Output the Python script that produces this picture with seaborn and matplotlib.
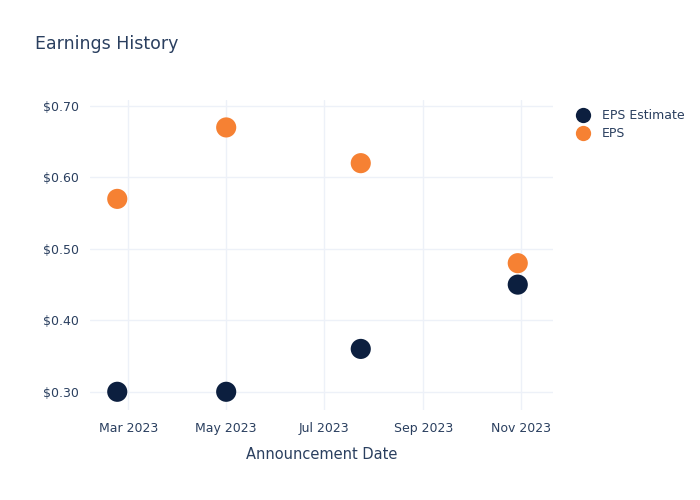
import matplotlib
matplotlib.use("Agg")
import matplotlib.pyplot as plt
import matplotlib.dates as mdates
from matplotlib.lines import Line2D
import seaborn as sns
import pandas as pd

dates = ["2023-02-22", "2023-05-01", "2023-07-24", "2023-10-30"]
eps_estimate = [0.30, 0.30, 0.36, 0.45]
eps_actual = [0.57, 0.67, 0.62, 0.48]
series_names = ["EPS Estimate", "EPS"]
colors = ["#0c1f3f", "#f68133"]

df = pd.DataFrame({
    "date": pd.to_datetime(dates * 2),
    "value": eps_estimate + eps_actual,
    "series": [series_names[0]] * len(dates) + [series_names[1]] * len(dates),
})

sns.set_style("white")
plt.rcParams['font.family'] = ['DejaVu Sans']
text_color = "#2a3f5f"
grid_color = "#edf1f8"

fig = plt.figure(figsize=(7, 5), dpi=100)
ax = fig.add_axes([0.1286, 0.18, 0.6614, 0.62])

sns.scatterplot(data=df, x="date", y="value", hue="series",
                palette=dict(zip(series_names, colors)), s=210,
                linewidth=0, ax=ax, zorder=3, legend=False)

ax.set_xlim(pd.Timestamp("2023-02-05"), pd.Timestamp("2023-11-21"))
ax.set_ylim(0.2745, 0.7084)
ax.set_yticks([0.3, 0.4, 0.5, 0.6, 0.7])
ax.set_yticklabels([f"${v:.2f}" for v in [0.3, 0.4, 0.5, 0.6, 0.7]])
ax.xaxis.set_major_locator(mdates.MonthLocator(bymonth=[3, 5, 7, 9, 11]))
ax.xaxis.set_major_formatter(mdates.DateFormatter("%b %Y"))

for s in ax.spines.values():
    s.set_visible(False)
ax.grid(True, color=grid_color, linewidth=1)
ax.set_axisbelow(True)
ax.tick_params(axis="y", length=0, labelsize=9, colors=text_color, pad=8)
ax.tick_params(axis="x", length=0, labelsize=9, colors=text_color, pad=8.5)
ax.set_xlabel("Announcement Date", fontsize=10.5, color=text_color, labelpad=9)
ax.set_ylabel("")

fig.text(0.05, 0.912, "Earnings History", fontsize=12.5, color=text_color, va="center")

handles = [Line2D([0], [0], marker="o", linestyle="", markersize=11,
                  markerfacecolor=c, markeredgewidth=0) for c in colors]
leg = fig.legend(handles, series_names, loc="upper left", bbox_to_anchor=(0.808, 0.792),
                 frameon=False, fontsize=9, labelcolor=text_color,
                 handletextpad=0.5, labelspacing=0.4, borderaxespad=0)

fig.savefig("out.png", dpi=100)
